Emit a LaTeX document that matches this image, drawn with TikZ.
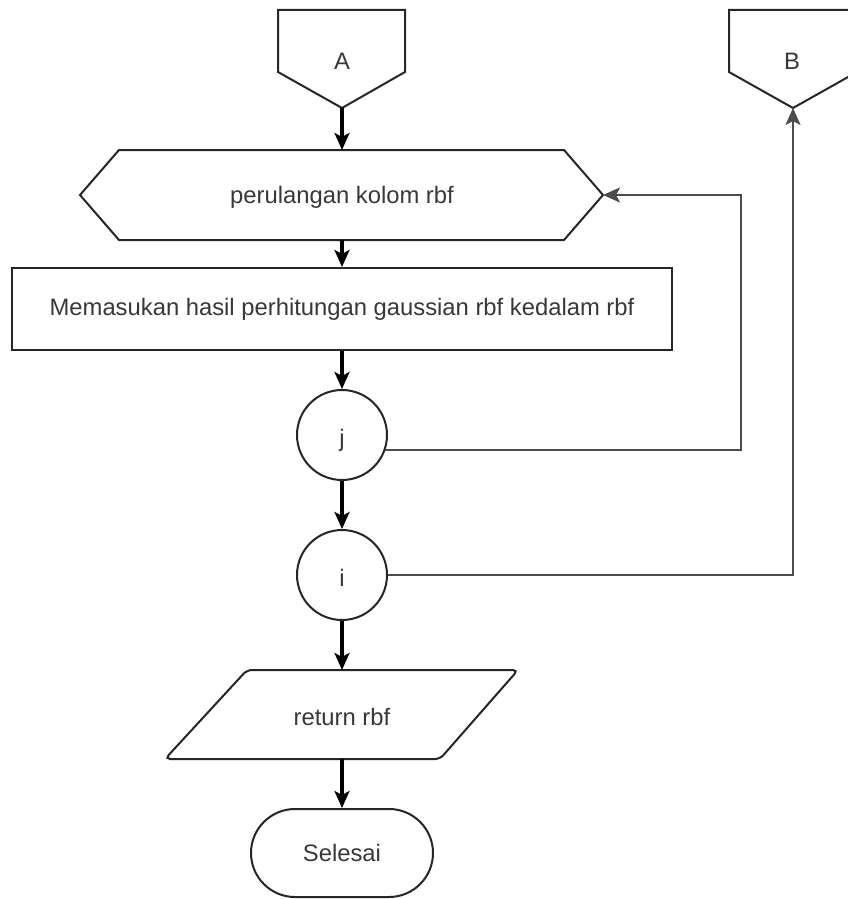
\documentclass[tikz,border=0pt]{standalone}
\usepackage{fontspec}
\setmainfont{Liberation Sans}
\usetikzlibrary{arrows.meta}
\begin{document}
\begin{tikzpicture}[x=1pt,y=-1pt,
  box/.style={draw=black!85, line width=2pt, fill=white},
  txt/.style={text=black!78, font=\fontsize{23.8}{28}\selectfont, inner sep=0pt},
  tip/.style={-{Stealth[length=17pt,width=15pt,inset=4pt]}},
  flow/.style={tip, draw=black, line width=3.2pt},
  back/.style={tip, draw=black!70, line width=2.4pt}]
\clip (0,0) rectangle (848,899);
\fill[white] (0,0) rectangle (848,899);

% off-page connector A
\draw[box] (278,10) -- (405,10) -- (405,72) -- (342,108) -- (278,72) -- cycle;
\node[txt] (A) at (342,61) {A};
\coordinate (Aout) at (342,108);

% off-page connector B
\draw[box] (729,10) -- (857,10) -- (857,72) -- (793,108) -- (729,72) -- cycle;
\node[txt] (B) at (792,61) {B};
\coordinate (Bin) at (793,108);

% loop header (hexagon)
\draw[box] (80,195) -- (119,150) -- (564,150) -- (603,195) -- (564,240) -- (119,240) -- cycle;
\node[txt] (loop) at (342,197) {perulangan kolom rbf};
\coordinate (hexT) at (342,150);
\coordinate (hexB) at (342,240);
\coordinate (hexR) at (603,195);

% process box
\node[box, minimum width=660pt, minimum height=82pt, inner sep=0pt] (proc) at (342,309) {};
\node[txt] at (proc) {Memasukan hasil perhitungan gaussian rbf kedalam rbf};

% loop ends
\node[box, circle, minimum size=90pt, inner sep=0pt] (j) at (342,435) {};
\node[txt] at (342,440) {j};
\node[box, circle, minimum size=90pt, inner sep=0pt] (i) at (342,575) {};
\node[txt] at (342,578) {i};

% output (parallelogram)
\draw[box, rounded corners=5pt] (247,670) -- (518,670) -- (440,759) -- (165,759) -- cycle;
\node[txt] (out) at (342,717) {return rbf};
\coordinate (outT) at (342,670);
\coordinate (outB) at (342,759);

% terminator
\node[box, rounded corners=44pt, minimum width=182pt, minimum height=88pt, inner sep=0pt] (end) at (342,853) {};
\node[txt] at (end) {Selesai};

% main flow
\draw[flow] (Aout) -- (hexT);
\draw[flow] (hexB) -- (proc.north);
\draw[flow] (proc.south) -- (j.north);
\draw[flow] (j.south) -- (i.north);
\draw[flow] (i.south) -- (outT);
\draw[flow] (outB) -- (end.north);

% loop-back connectors
\coordinate (jturn) at (741,195);
\draw[back] (j.-19) -| (jturn) -- (hexR);
\draw[back] (i.east) -| (Bin);
\end{tikzpicture}
\end{document}
